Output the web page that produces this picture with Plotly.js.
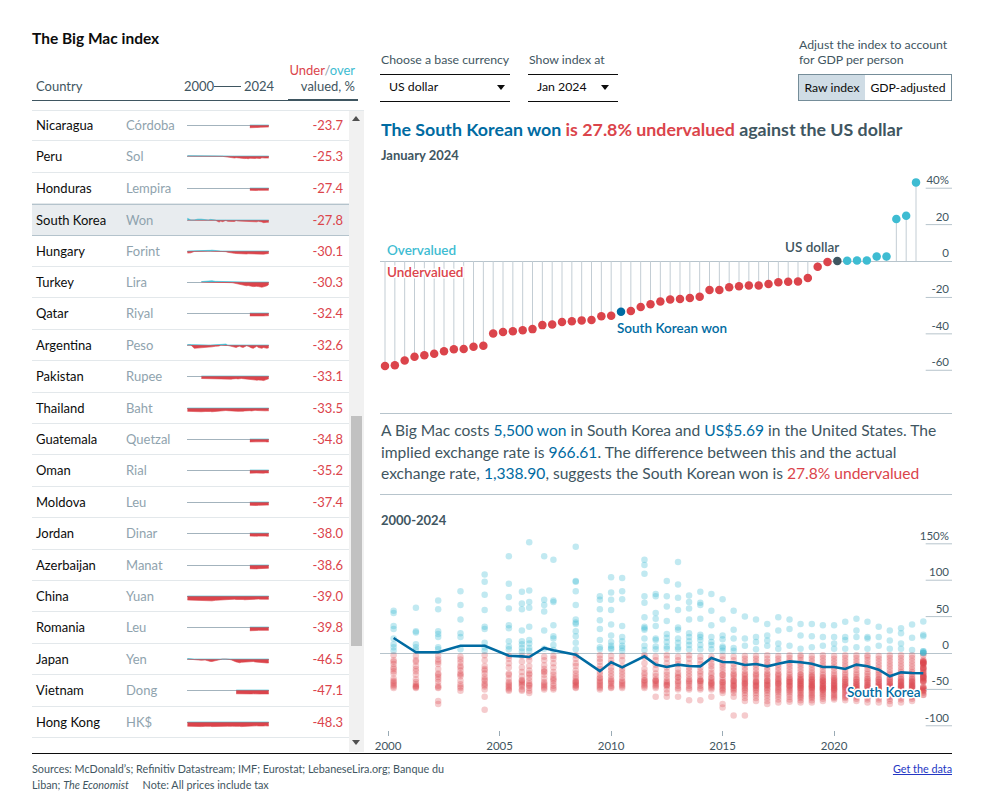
<!DOCTYPE html>
<html><head><meta charset="utf-8">
<script src="https://cdn.plot.ly/plotly-3.0.1.min.js"></script>
<style>
html,body{margin:0;padding:0;background:#fff}
body{width:983px;height:810px;position:relative;overflow:hidden;font-family:Lato,'Noto Sans',sans-serif;color:#0c0c0c}
.t{position:absolute;white-space:nowrap;line-height:16px}
.hl{position:absolute;background:#3f5661}
.red{color:#db444b}.cyan{color:#3ebcd2}.blue{color:#006ba2}
#list{position:absolute;left:32px;top:110px;width:332px;height:642px;overflow:hidden;border-top:1px solid #e3e8eb;box-sizing:border-box}
.row{position:absolute;left:0;width:317px;height:31.4px;border-bottom:1px solid #e3e8eb;box-sizing:border-box}
.row.sel{background:#e8ecef;border-top:1px solid #b4c3cc;border-bottom:1px solid #b4c3cc}
.row .nm{position:absolute;left:4px;top:7px;font-size:13px;line-height:16px;color:#0c0c0c}
.row .cu{position:absolute;left:94px;top:7px;font-size:13px;line-height:16px;color:#8fa3ae}
.row .va{position:absolute;right:6px;top:7px;font-size:13px;line-height:16px;color:#db444b}
.row .sp{position:absolute;left:155px;top:5px;width:82px;height:20px}
#track{position:absolute;left:317px;top:0;width:15px;height:642px;background:#f1f1f1}
#thumb{position:absolute;left:319px;top:305px;width:11px;height:230px;background:#c1c1c1}
.arr{position:absolute;width:0;height:0;border-left:4px solid transparent;border-right:4px solid transparent}
.btn{position:absolute;top:74px;height:27px;box-sizing:border-box;border:1px solid #758d99;font-size:12.2px;line-height:25px;text-align:center;color:#0c0c0c}
#lolli .annotation-text, #hist .annotation-text{paint-order:stroke;stroke:#fff;stroke-width:3px;stroke-linejoin:round}
</style></head>
<body>
<script>
// ---------------- DATA ----------------
const _ = null;
// Table (left panel), sorted by valuation, Jan 2024
const tableCountries = ['Nicaragua','Peru','Honduras','South Korea','Hungary','Turkey','Qatar','Argentina','Pakistan','Thailand','Guatemala','Oman','Moldova','Jordan','Azerbaijan','China','Romania','Japan','Vietnam','Hong Kong'];
const tableCurrencies = ['Córdoba','Sol','Lempira','Won','Forint','Lira','Riyal','Peso','Rupee','Baht','Quetzal','Rial','Leu','Dinar','Manat','Yuan','Leu','Yen','Dong','HK$'];
const tableValues = [-23.7,-25.3,-27.4,-27.8,-30.1,-30.3,-32.4,-32.6,-33.1,-33.5,-34.8,-35.2,-37.4,-38.0,-38.6,-39.0,-39.8,-46.5,-47.1,-48.3];

// Index dates (2000-2024)
const indexDates = ['2000-04-01','2001-04-01','2002-04-01','2003-04-01','2004-05-01','2005-06-01','2006-01-01','2006-05-01','2007-01-01','2007-06-01','2008-06-01','2009-07-01','2010-01-01','2010-07-01','2011-07-01','2012-01-01','2012-07-01','2013-01-01','2013-07-01','2014-01-01','2014-07-01','2015-01-01','2015-07-01','2016-01-01','2016-07-01','2017-01-01','2017-07-01','2018-01-01','2018-07-01','2019-01-01','2019-07-01','2020-01-01','2020-07-01','2021-01-01','2021-07-01','2022-01-01','2022-07-01','2023-01-01','2023-07-01','2024-01-01'];

// Sparkline series (one per table row)
const sparkNicaragua = [_,_,_,_,_,_,_,_,_,_,_,_,_,_,_,_,_,_,_,_,_,_,_,_,_,_,_,_,-33,-34,-31,-30,-32,-29,-27,-28,-26,-27,-25,-23.7];
const sparkPeru = [4,3,5,2,3,4,2,3,1,2,-4,-8,2,-4,-10,-14,-18,-20,-22,-24,-20,-24,-28,-27,-29,-31,-29,-33,-27,-29,-25,-29,-26,-28,-30,-22,-27,-25,-24,-25.3];
const sparkHonduras = [_,_,_,_,_,_,_,_,_,_,_,_,_,_,_,_,_,_,_,_,_,_,_,_,_,_,_,_,-28,-30,-29,-31,-30,-28,-29,-27,-30,-28,-27,-27.4];
const sparkSouthKorea = [20,1,1,10,10,-4,-5,-6,7,4,-2,-25,-13,-20,-5,-16,-19,-16,-18,-18,-7,-12,-13,-16,-15,-18,-15,-11,-13,-15,-19,-19,-22,-16,-18,-23,-32,-27,-27.5,-27.8];
const sparkHungary = [-25,-22,-5,-2,-1,0,1,2,8,10,3,-2,-1,-2,-8,-15,-20,-22,-25,-28,-30,-32,-35,-38,-36,-38,-36,-33,-34,-36,-40,-42,-38,-40,-38,-42,-38,-35,-32,-30.1];
const sparkTurkey = [_,_,_,_,5,8,10,6,12,15,8,6,10,12,5,2,-5,-8,-10,-15,-12,-20,-25,-30,-35,-40,-45,-42,-50,-52,-55,-50,-52,-55,-60,-62,-58,-55,-45,-30.3];
const sparkQatar = [_,_,_,_,_,_,_,_,_,_,_,_,_,_,_,_,_,_,_,_,_,_,_,_,_,_,_,_,-35,-36,-34,-33,-34,-33,-32,-33,-35,-34,-33,-32.4];
const sparkArgentina = [5,3,-40,-38,-35,-30,-30,-28,-25,-22,-15,-12,5,8,12,-5,-10,-15,-18,-22,-30,-20,-15,-25,-30,-20,-10,-15,-30,-35,-40,-25,-15,-30,-35,-40,-30,-35,-40,-32.6];
const sparkPakistan = [_,_,_,_,-30,-32,-30,-28,-30,-32,-35,-38,-40,-38,-35,-38,-40,-38,-35,-30,-32,-35,-28,-30,-32,-35,-38,-40,-42,-40,-45,-48,-50,-48,-45,-50,-55,-52,-40,-33.1];
const sparkThailand = [-40,-42,-45,-48,-45,-42,-40,-38,-42,-45,-40,-38,-35,-38,-30,-32,-35,-38,-40,-35,-38,-40,-42,-40,-38,-35,-33,-30,-32,-35,-30,-28,-30,-32,-35,-36,-38,-34,-33,-33.5];
const sparkGuatemala = [_,_,_,_,_,_,_,_,_,_,_,_,_,_,_,_,_,_,_,_,_,_,_,_,_,_,_,_,-35,-34,-35,-36,-35,-33,-34,-32,-35,-33,-35,-34.8];
const sparkOman = [_,_,_,_,_,_,_,_,_,_,_,_,_,_,_,_,_,_,_,_,_,_,_,_,_,_,_,_,-38,-40,-38,-37,-36,-38,-37,-36,-38,-35,-36,-35.2];
const sparkMoldova = [_,_,_,_,_,_,_,_,_,_,_,_,_,_,_,_,_,_,_,_,_,_,_,_,_,_,_,_,-40,-42,-41,-40,-42,-40,-38,-39,-40,-38,-37,-37.4];
const sparkJordan = [_,_,_,_,_,_,_,_,_,_,_,_,_,_,_,_,_,_,_,_,_,_,_,_,_,_,_,_,-36,-38,-37,-36,-38,-37,-35,-36,-38,-37,-38,-38.0];
const sparkAzerbaijan = [_,_,_,_,_,_,_,_,_,_,_,_,_,_,_,_,_,_,_,_,_,_,_,_,_,_,_,_,-45,-47,-46,-45,-47,-44,-42,-43,-41,-40,-39,-38.6];
const sparkChina = [-48,-50,-52,-50,-55,-58,-58,-56,-57,-58,-52,-49,-48,-45,-42,-40,-38,-42,-40,-38,-42,-40,-38,-40,-42,-45,-43,-40,-42,-44,-42,-40,-38,-36,-38,-40,-42,-40,-38,-39.0];
const sparkRomania = [_,_,_,_,_,_,_,_,_,_,_,_,_,_,_,_,_,_,_,_,_,_,_,_,_,_,_,_,-45,-46,-44,-43,-42,-40,-41,-40,-42,-41,-40,-39.8];
const sparkJapan = [5,-5,-10,-12,-15,-12,-20,-25,-30,-30,-20,-5,5,3,8,2,-5,-10,-20,-28,-35,-40,-45,-40,-38,-35,-30,-32,-30,-28,-30,-35,-38,-40,-42,-45,-50,-45,-48,-46.5];
const sparkVietnam = [_,_,_,_,_,_,_,_,_,_,_,_,_,_,_,_,_,_,_,_,-45,-46,-48,-50,-47,-48,-49,-50,-48,-47,-46,-48,-50,-49,-48,-47,-46,-48,-47,-47.1];
const sparkHongKong = [-50,-52,-55,-58,-55,-52,-50,-50,-52,-55,-52,-50,-52,-50,-48,-50,-52,-48,-50,-52,-50,-52,-52,-55,-53,-52,-50,-48,-50,-48,-46,-45,-46,-48,-50,-52,-48,-46,-48,-48.3];
const sparkSeries = [sparkNicaragua,sparkPeru,sparkHonduras,sparkSouthKorea,sparkHungary,sparkTurkey,sparkQatar,sparkArgentina,sparkPakistan,sparkThailand,sparkGuatemala,sparkOman,sparkMoldova,sparkJordan,sparkAzerbaijan,sparkChina,sparkRomania,sparkJapan,sparkVietnam,sparkHongKong];

// Lollipop: all currencies vs US dollar, Jan 2024, sorted
const lolliValues = [-57.7,-57.3,-54.6,-52.6,-51.7,-50.9,-49.6,-48.4,-48.3,-47.1,-46.5,-39.8,-39.0,-38.6,-38.0,-37.4,-35.2,-34.8,-33.5,-33.1,-32.6,-32.4,-30.3,-30.1,-27.8,-27.4,-25.3,-23.7,-22.2,-21.1,-20.9,-20.3,-19.6,-15.9,-15.9,-14.4,-13.9,-13.5,-13.4,-12.6,-11.6,-11.4,-11.2,-9.3,-3.1,-0.5,0,0.2,0.3,0.3,2.5,2.5,23.1,24.9,43.2];
const lolliSelected = 24;   // South Korean won
const lolliBase = 46;       // US dollar
const lolliTicks = [-60,-40,-20,0,20,40];
const lolliTickText = ['-60','-40','-20','0','20','40%'];

// History: every currency at every date
const v2000_04 = [58,55,37,33,20,12,8,3,-3,-10,-15,-20,-22,-28,-35,-38,-42,-44,-46,-48,-25,-12,-40];
const v2001_04 = [62,30,28,12,8,4,-4,-12,-18,-22,-30,-36,-40,-43,-45,-47,-48,-46,-25,-10];
const v2002_04 = [72,60,30,26,22,8,5,-4,-9,-15,-22,-28,-33,-36,-40,-45,-47,-48,-66,-70,-30,-12];
const v2003_04 = [85,66,46,27,22,5,-5,-9,-13,-18,-24,-28,-32,-38,-43,-46,-48,-52,-30,-20];
const v2004_05 = [108,98,80,59,36,33,14,8,3,-3,-10,-18,-24,-28,-33,-38,-42,-44,-46,-50,-60,-78,-36,-22];
const v2005_06 = [133,95,77,61,38,34,16,9,5,-4,-8,-14,-20,-28,-35,-40,-44,-46,-48,-50,-52,-30,-42];
const v2006_01 = [84,68,60,31,16,12,7,2,-4,-12,-20,-26,-32,-37,-40,-42,-44,-46,-50,-52,-38];
const v2006_05 = [152,86,70,62,36,18,13,7,3,-5,-10,-18,-24,-28,-34,-38,-42,-45,-48,-52,-55,-44,-30];
const v2007_01 = [133,73,66,57,31,6,-5,-10,-17,-22,-26,-30,-35,-40,-44,-46,-48,-50,-25,-42];
const v2007_06 = [128,72,70,38,23,20,11,4,-4,-8,-14,-20,-26,-30,-34,-38,-42,-45,-48,-50,-36];
const v2008_06 = [146,99,98,85,66,46,42,40,30,23,14,5,-3,-8,-14,-18,-24,-28,-32,-35,-38,-40,-42,-44,-45,-47,-48,-40];
const v2009_07 = [78,73,60,45,33,18,8,5,-3,-8,-12,-18,-22,-26,-30,-34,-38,-40,-42,-44,-46,-48,-50,-35];
const v2010_01 = [104,83,73,59,39,24,15,10,7,5,-4,-10,-14,-20,-24,-28,-32,-36,-40,-42,-45,-47,-48,-38];
const v2010_07 = [103,85,74,37,22,16,10,7,3,-4,-10,-18,-22,-26,-30,-34,-38,-42,-44,-46,-48,-40];
const v2011_07 = [128,121,109,78,69,49,36,34,32,20,10,4,-3,-6,-14,-22,-27,-30,-34,-37,-40,-42,-44,-46,-48,-38];
const v2012_01 = [81,78,55,47,37,20,18,9,5,-5,-10,-16,-22,-28,-32,-36,-38,-40,-42,-44,-46,-48,-60,-38];
const v2012_07 = [99,78,64,44,26,21,15,9,6,-3,-8,-14,-20,-26,-30,-34,-38,-40,-42,-44,-46,-50,-55,-60,-44];
const v2013_01 = [125,94,76,59,35,32,20,14,8,5,-5,-10,-15,-22,-27,-30,-34,-38,-40,-42,-45,-48,-50,-60,-33];
const v2013_07 = [79,70,61,46,27,22,16,11,5,-3,-8,-14,-20,-24,-28,-32,-36,-40,-42,-45,-48,-50,-65,-38];
const v2014_01 = [84,69,66,47,25,22,18,11,5,-5,-10,-15,-20,-25,-28,-32,-36,-38,-40,-42,-45,-48,-50,-65,-38];
const v2014_07 = [81,58,38,22,15,11,5,-5,-9,-14,-18,-22,-27,-30,-34,-38,-40,-42,-44,-46,-48,-50,-60,-42,-35];
const v2015_01 = [74,46,24,19,9,7,3,-4,-9,-14,-18,-22,-26,-30,-34,-37,-40,-42,-44,-46,-48,-50,-52,-55,-70,-75,-40,-30];
const v2015_07 = [58,32,20,7,3,-5,-10,-15,-20,-24,-28,-32,-35,-38,-40,-42,-44,-46,-48,-50,-52,-55,-60,-86,-38,-30,-45];
const v2016_01 = [50,20,10,-4,-8,-12,-16,-20,-24,-28,-32,-35,-38,-40,-42,-44,-46,-48,-50,-52,-55,-58,-62,-66,-86,-36,-42,-30];
const v2016_07 = [46,22,15,5,-4,-8,-12,-16,-20,-24,-28,-32,-35,-38,-40,-42,-44,-46,-48,-50,-52,-55,-58,-62,-66,-40,-30,-45];
const v2017_01 = [40,24,17,10,-3,-8,-12,-16,-20,-24,-28,-32,-35,-38,-40,-42,-44,-46,-48,-50,-52,-55,-58,-62,-66,-70,-38,-44,-30];
const v2017_07 = [49,31,13,6,-4,-8,-12,-16,-20,-24,-28,-32,-35,-38,-40,-42,-44,-46,-48,-50,-52,-54,-57,-60,-64,-68,-42,-36,-30];
const v2018_01 = [46,33,10,-3,-7,-11,-15,-19,-23,-27,-30,-33,-36,-38,-40,-42,-44,-46,-48,-50,-52,-54,-57,-60,-64,-67,-40,-35,-45];
const v2018_07 = [40,24,6,-3,-6,-10,-14,-18,-22,-26,-30,-33,-36,-38,-40,-42,-44,-46,-48,-50,-52,-54,-56,-58,-60,-62,-65,-68,-42,-38,-35,-45,-48,-30];
const v2019_01 = [40,23,8,-4,-8,-12,-16,-20,-24,-27,-30,-33,-36,-38,-40,-42,-44,-46,-48,-50,-52,-54,-56,-58,-60,-62,-65,-68,-44,-40,-36,-46,-48,-32];
const v2019_07 = [38,22,10,-3,-7,-11,-15,-19,-23,-27,-30,-33,-36,-38,-40,-42,-44,-46,-48,-50,-52,-54,-56,-58,-60,-63,-66,-42,-38,-46,-48,-34,-50];
const v2020_01 = [38,22,13,6,-4,-8,-12,-16,-20,-24,-28,-31,-34,-37,-40,-42,-44,-46,-48,-50,-52,-54,-56,-58,-60,-62,-64,-42,-38,-45,-48,-35,-50];
const v2020_07 = [43,22,18,6,-3,-7,-11,-15,-19,-23,-27,-30,-33,-36,-39,-42,-44,-46,-48,-50,-52,-54,-56,-58,-60,-62,-65,-40,-44,-47,-36];
const v2021_01 = [47,31,22,8,-3,-7,-11,-15,-19,-23,-27,-30,-33,-36,-39,-42,-44,-46,-48,-50,-52,-54,-56,-58,-60,-63,-66,-40,-44,-47,-36,-50];
const v2021_07 = [43,22,20,6,-3,-6,-10,-14,-18,-22,-26,-29,-32,-35,-38,-41,-44,-46,-48,-50,-52,-54,-56,-58,-61,-64,-68,-40,-44,-47,-36];
const v2022_01 = [36,22,10,-4,-8,-12,-16,-20,-24,-27,-30,-33,-36,-39,-42,-44,-46,-48,-50,-52,-54,-56,-58,-61,-64,-68,-40,-44,-47,-36,-50];
const v2022_07 = [31,17,6,-3,-7,-11,-15,-19,-23,-27,-30,-33,-36,-39,-42,-44,-46,-48,-50,-52,-54,-56,-58,-60,-63,-66,-70,-40,-44,-46,-36,-48];
const v2023_01 = [34,27,13,6,-3,-7,-11,-15,-19,-23,-26,-29,-32,-35,-38,-40,-42,-44,-46,-48,-50,-52,-54,-56,-58,-61,-64,-68,-40,-44,-46,-36,-48];
const v2023_07 = [39,21,4,-3,-7,-11,-15,-19,-23,-26,-29,-32,-35,-38,-40,-42,-44,-46,-48,-50,-52,-54,-56,-58,-60,-63,-66,-40,-44,-46,-36,-48];
const v2024_01 = lolliValues;
const historyValues = [v2000_04,v2001_04,v2002_04,v2003_04,v2004_05,v2005_06,v2006_01,v2006_05,v2007_01,v2007_06,v2008_06,v2009_07,v2010_01,v2010_07,v2011_07,v2012_01,v2012_07,v2013_01,v2013_07,v2014_01,v2014_07,v2015_01,v2015_07,v2016_01,v2016_07,v2017_01,v2017_07,v2018_01,v2018_07,v2019_01,v2019_07,v2020_01,v2020_07,v2021_01,v2021_07,v2022_01,v2022_07,v2023_01,v2023_07,v2024_01];
const southKoreaHistory = [20.6,1,1,10,10,-3.7,-4.6,-5.5,6.9,3.7,-2.3,-25,-12.8,-19.7,-4.6,-16,-19.3,-16,-17.9,-18.3,-6.9,-12.4,-12.8,-16.5,-15.1,-18.3,-14.7,-11.5,-12.8,-14.7,-19.3,-19.3,-22,-16,-18.3,-22.9,-32,-26.6,-27.5,-27.8];
const histTicks = [-100,-50,0,50,100,150];
const histTickText = ['-100','-50','0','50','100','150%'];
const histXTicks = ['2000-01-01','2005-01-01','2010-01-01','2015-01-01','2020-01-01'];
const histXTickText = ['2000','2005','2010','2015','2020'];
</script>

<!-- Title & header -->
<div class="t" style="left:32px;top:29px;font-size:15.5px;line-height:18px;font-weight:700;color:#0c0c0c">The Big Mac index</div>
<div class="t" style="left:36px;top:78px;font-size:13px;color:#3f5661">Country</div>
<div class="t" style="left:184px;top:78px;font-size:13px;color:#3f5661">2000</div>
<div class="hl" style="left:214px;top:86px;width:27px;height:1px"></div>
<div class="t" style="left:244px;top:78px;font-size:13px;color:#3f5661">2024</div>
<div class="t" style="right:628px;top:62px;font-size:13px;text-align:right"><span class="red">Under</span><span style="color:#8fa3ae">/</span><span class="cyan">over</span></div>
<div class="t" style="right:628px;top:78px;font-size:13px;color:#3f5661;text-align:right">valued, %</div>
<div class="hl" style="left:32px;top:100px;width:256px;height:1px"></div>
<div class="hl" style="left:288px;top:99px;width:70px;height:2px;background:#3f5661"></div>

<div id="list">
  <div id="rows"></div>
  <div id="track"></div>
  <div class="arr" style="left:320px;top:5px;border-bottom:5px solid #505050"></div>
  <div id="thumb"></div>
  <div class="arr" style="left:320px;top:629px;border-top:5px solid #505050"></div>
</div>

<!-- Footer -->
<div class="hl" style="left:32px;top:753px;width:920px;height:1px;background:#0c0c0c"></div>
<div class="t" style="left:32px;top:761px;font-size:10.8px;line-height:15px;color:#3f5661">Sources: McDonald’s; Refinitiv Datastream; IMF; Eurostat; LebaneseLira.org; Banque du</div>
<div class="t" style="left:32px;top:777px;font-size:10.8px;line-height:15px;color:#3f5661">Liban; <i>The Economist</i>&nbsp;&nbsp;&nbsp;&nbsp;&nbsp;Note: All prices include tax</div>
<div class="t" style="right:31px;top:761px;font-size:10.8px;line-height:15px;color:#2437c4;text-decoration:underline">Get the data</div>

<!-- Controls -->
<div class="t" style="left:381px;top:52px;font-size:12.3px;color:#3f5661">Choose a base currency</div>
<div class="hl" style="left:380px;top:74px;width:130px;height:1px;background:#0c0c0c"></div>
<div class="hl" style="left:380px;top:101px;width:130px;height:1px;background:#0c0c0c"></div>
<div class="t" style="left:389px;top:79px;font-size:12.3px;color:#0c0c0c">US dollar</div>
<div class="arr" style="left:497px;top:85px;border-top:5px solid #0c0c0c"></div>
<div class="t" style="left:529px;top:52px;font-size:12.3px;color:#3f5661">Show index at</div>
<div class="hl" style="left:528px;top:74px;width:90px;height:1px;background:#0c0c0c"></div>
<div class="hl" style="left:528px;top:101px;width:90px;height:1px;background:#0c0c0c"></div>
<div class="t" style="left:537px;top:79px;font-size:12.3px;color:#0c0c0c">Jan 2024</div>
<div class="arr" style="left:601px;top:85px;border-top:5px solid #0c0c0c"></div>
<div class="t" style="left:799px;top:37px;font-size:12.3px;line-height:15px;color:#3f5661">Adjust the index to account<br>for GDP per person</div>
<div class="btn" style="left:798px;width:68px;background:#cfdce5">Raw index</div>
<div class="btn" style="left:865px;width:87px;background:#fff;border-left:none">GDP-adjusted</div>

<!-- Headline -->
<div class="t" style="left:381px;top:118px;font-size:17.8px;line-height:22px;font-weight:700;color:#3f5661"><span class="blue">The South Korean won</span><span class="red"> is 27.8% undervalued</span> against the US dollar</div>
<div class="t" style="left:381px;top:147px;font-size:13px;font-weight:700;color:#3f5661">January 2024</div>
<div id="lolli" style="position:absolute;left:360px;top:170px;width:592px;height:205px"></div>

<div class="hl" style="left:380px;top:413px;width:572px;height:1px;background:#b7c4cc"></div>
<div class="t" style="left:381px;top:420px;font-size:15.6px;line-height:21.5px;color:#3f5661">A Big Mac costs <span class="blue">5,500 won</span> in South Korea and <span class="blue">US$5.69</span> in the United States. The<br>implied exchange rate is <span class="blue">966.61</span>. The difference between this and the actual<br>exchange rate, <span class="blue">1,338.90</span>, suggests the South Korean won is <span class="red">27.8% undervalued</span></div>
<div class="hl" style="left:380px;top:494px;width:572px;height:1px;background:#b7c4cc"></div>
<div class="t" style="left:381px;top:512px;font-size:13px;font-weight:700;color:#3f5661">2000-2024</div>
<div id="hist" style="position:absolute;left:360px;top:515px;width:592px;height:237px"></div>

<script>
const RED='#db444b', CYAN='#3ebcd2', BLUE='#006ba2', DARK='#3f5661';
const FONT="Lato, 'Noto Sans', sans-serif";

// ---------- table rows + sparklines ----------
const rowsEl=document.getElementById('rows');
tableCountries.forEach((c,i)=>{
  const r=document.createElement('div');
  r.className='row'+(c==='South Korea'?' sel':'');
  r.style.top=(i*31.4-1)+'px';
  r.innerHTML='<div class="nm">'+c+'</div><div class="cu">'+tableCurrencies[i]+'</div><div class="va">'+tableValues[i].toFixed(1)+'</div><div class="sp" id="sp'+i+'"></div>';
  rowsEl.appendChild(r);
  const s=sparkSeries[i];
  if(!s) return;
  const pos=s.map(v=>v===null?null:Math.max(v,0));
  const neg=s.map(v=>v===null?null:Math.min(v,0));
  Plotly.newPlot('sp'+i,[
    {x:indexDates,y:neg,type:'scatter',mode:'lines',fill:'tozeroy',fillcolor:RED,line:{color:RED,width:0.6},hoverinfo:'skip'},
    {x:indexDates,y:pos,type:'scatter',mode:'lines',fill:'tozeroy',fillcolor:CYAN,line:{color:CYAN,width:0.6},hoverinfo:'skip'}
  ],{
    width:82,height:20,margin:{l:0,r:0,t:0,b:0},showlegend:false,
    paper_bgcolor:'rgba(0,0,0,0)',plot_bgcolor:'rgba(0,0,0,0)',
    xaxis:{type:'date',range:['2000-02-15','2024-02-01'],visible:false},
    yaxis:{range:[-120,120],showgrid:false,showticklabels:false,showline:false,ticks:'',zeroline:true,zerolinecolor:'#a3b3bd',zerolinewidth:1}
  },{staticPlot:true,displayModeBar:false});
});

// ---------- lollipop ----------
(function(){
  const xs=lolliValues.map((v,i)=>i);
  const sx=[],sy=[];
  lolliValues.forEach((v,i)=>{sx.push(i,i,null);sy.push(0,v,null);});
  const colors=lolliValues.map((v,i)=>i===lolliSelected?BLUE:(i===lolliBase?DARK:(v>0?CYAN:RED)));
  const shapes=lolliTicks.filter(t=>t!==0).map(t=>({type:'line',xref:'paper',yref:'y',x0:0.954,x1:1,y0:t,y1:t,line:{color:'#b7c4cc',width:1}}));
  Plotly.newPlot('lolli',[
    {x:sx,y:sy,type:'scatter',mode:'lines',line:{color:'#c3cdd4',width:1},hoverinfo:'skip'},
    {x:xs,y:lolliValues,type:'scatter',mode:'markers',marker:{size:8.5,color:colors},hoverinfo:'skip'}
  ],{
    width:592,height:205,margin:{l:20,r:0,t:0,b:0},showlegend:false,
    paper_bgcolor:'rgba(0,0,0,0)',plot_bgcolor:'rgba(0,0,0,0)',
    font:{family:FONT,color:DARK,size:11.5},
    xaxis:{range:[-0.51,57.66],visible:false},
    yaxis:{range:[-62.6,50],side:'right',tickvals:lolliTicks,ticktext:lolliTickText,ticklabelposition:'inside top',
      showgrid:false,zeroline:true,zerolinecolor:'#b7c4cc',zerolinewidth:1,ticks:'',showline:false,tickfont:{size:11.5,color:DARK}},
    shapes:shapes,
    annotations:[
      {x:-0.51,y:0,xref:'x',yref:'y',xanchor:'left',yanchor:'bottom',xshift:5,yshift:1,text:'Overvalued',showarrow:false,font:{size:13.5,color:CYAN,weight:600}},
      {x:-0.51,y:0,xref:'x',yref:'y',xanchor:'left',yanchor:'top',xshift:5,yshift:-1,text:'Undervalued',showarrow:false,font:{size:13.5,color:RED,weight:600}},
      {x:lolliBase,y:0,xref:'x',yref:'y',xanchor:'right',yanchor:'bottom',xshift:4,yshift:4,text:'US dollar',showarrow:false,font:{size:13.5,color:DARK,weight:600}},
      {x:lolliSelected,y:lolliValues[lolliSelected],xref:'x',yref:'y',xanchor:'left',yanchor:'top',xshift:-6,yshift:-6,text:'South Korean won',showarrow:false,font:{size:13.5,color:BLUE,weight:600}}
    ]
  },{staticPlot:true,displayModeBar:false});
})();

// ---------- history ----------
(function(){
  const cx=[],cy=[],rx=[],ry=[];
  indexDates.forEach((d,i)=>historyValues[i].forEach(v=>{
    if(v>0){cx.push(d);cy.push(v);} else if(v<0){rx.push(d);ry.push(v);}
  }));
  const shapes=histTicks.filter(t=>t!==0).map(t=>({type:'line',xref:'paper',yref:'y',x0:0.954,x1:1,y0:t,y1:t,line:{color:'#b7c4cc',width:1}}));
  Plotly.newPlot('hist',[
    {x:rx,y:ry,type:'scatter',mode:'markers',marker:{size:6.5,color:'rgba(219,68,75,0.28)'},hoverinfo:'skip'},
    {x:cx,y:cy,type:'scatter',mode:'markers',marker:{size:6.5,color:'rgba(62,188,210,0.32)'},hoverinfo:'skip'},
    {x:indexDates,y:southKoreaHistory,type:'scatter',mode:'lines',line:{color:BLUE,width:2.6},hoverinfo:'skip'}
  ],{
    width:592,height:237,margin:{l:20,r:0,t:0,b:22},showlegend:false,
    paper_bgcolor:'rgba(0,0,0,0)',plot_bgcolor:'rgba(0,0,0,0)',
    font:{family:FONT,color:DARK,size:11.5},
    xaxis:{type:'date',range:['1999-08-22','2025-04-15'],tickvals:histXTicks,ticktext:histXTickText,ticks:'outside',ticklen:5,tickcolor:'#9aabb5',
      showgrid:false,zeroline:false,showline:false,tickfont:{size:11.5,color:DARK}},
    yaxis:{range:[-105.8,189.6],side:'right',tickvals:histTicks,ticktext:histTickText,ticklabelposition:'inside top',
      showgrid:false,zeroline:true,zerolinecolor:'#b7c4cc',zerolinewidth:1,ticks:'',showline:false,tickfont:{size:11.5,color:DARK}},
    shapes:shapes,
    annotations:[
      {x:indexDates[indexDates.length-1],y:southKoreaHistory[southKoreaHistory.length-1],xref:'x',yref:'y',xanchor:'right',yanchor:'top',xshift:0,yshift:-9,
       text:'South Korea',showarrow:false,font:{size:13.5,color:BLUE,weight:600}}
    ]
  },{staticPlot:true,displayModeBar:false});
})();
</script>
</body></html>
